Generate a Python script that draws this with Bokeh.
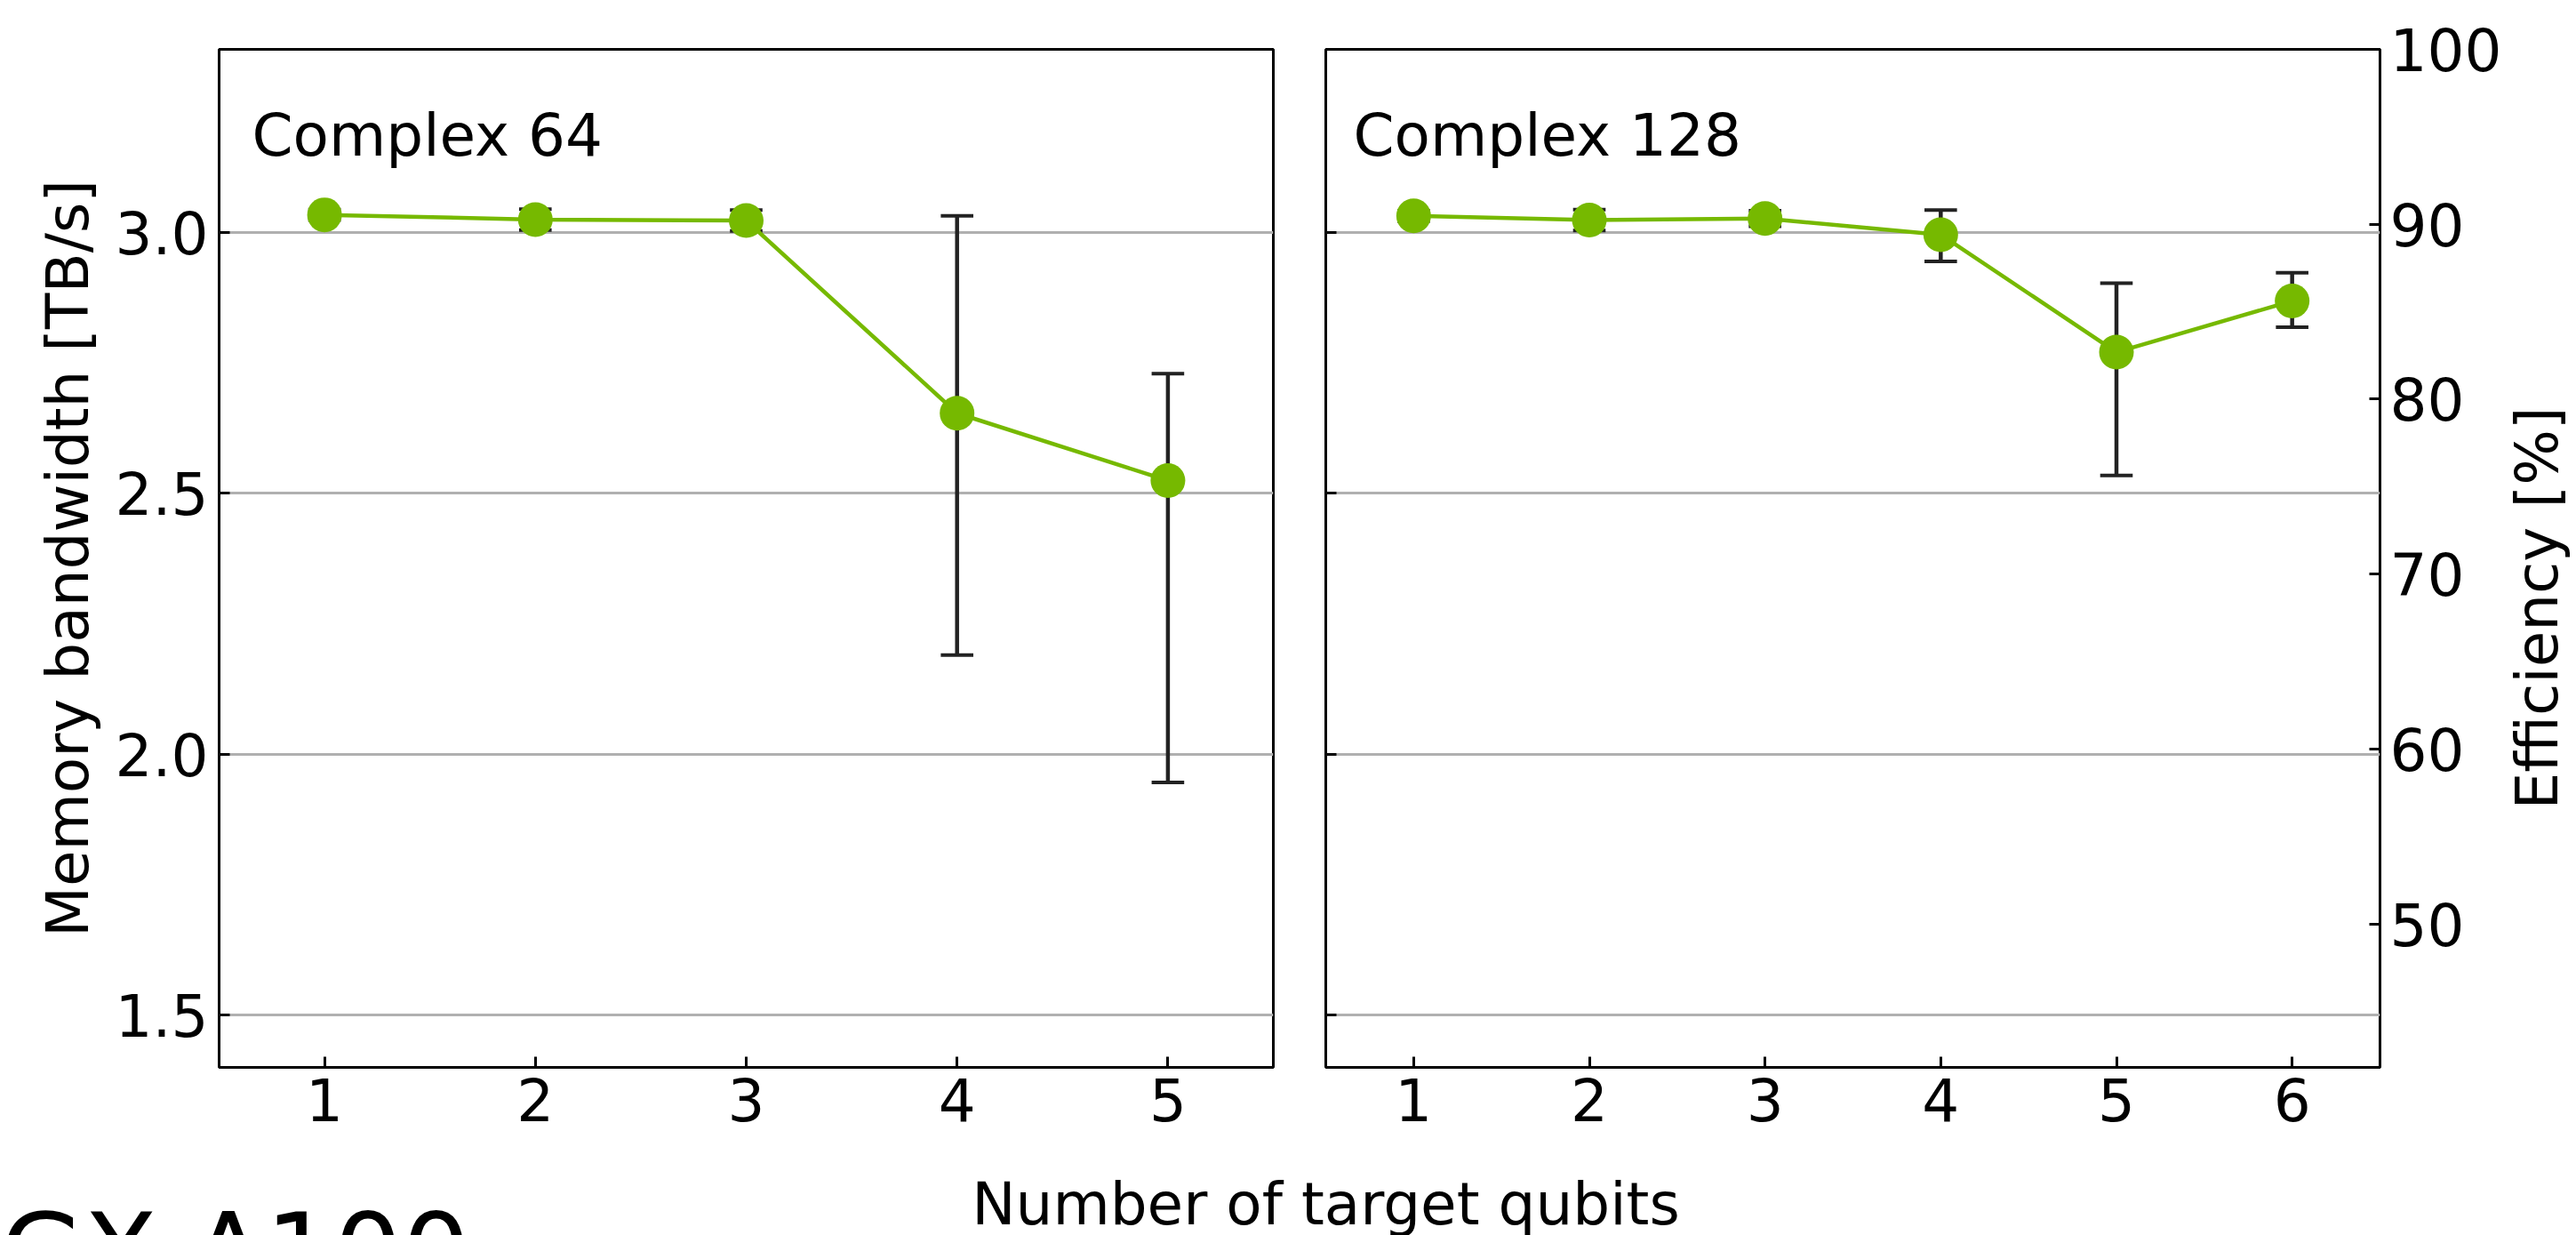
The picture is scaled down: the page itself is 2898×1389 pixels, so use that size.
import math
from bokeh.plotting import figure
from bokeh.models import Range1d, LinearAxis, FixedTicker, Label
from bokeh.layouts import row, column
from bokeh.embed import file_html
from bokeh.resources import INLINE

# ---------------- data ----------------
qubits_c64 = [1, 2, 3, 4, 5]
bw_c64 = [3.033, 3.024, 3.022, 2.653, 2.524]
bw_c64_lo = [3.023, 3.004, 3.002, 2.190, 1.946]
bw_c64_hi = [3.043, 3.044, 3.042, 3.031, 2.729]

qubits_c128 = [1, 2, 3, 4, 5, 6]
bw_c128 = [3.031, 3.023, 3.026, 2.995, 2.770, 2.868]
bw_c128_lo = [3.021, 3.003, 3.011, 2.944, 2.534, 2.818]
bw_c128_hi = [3.041, 3.043, 3.041, 3.042, 2.902, 2.922]

bw_ticks = [1.5, 2.0, 2.5, 3.0]
bw_tick_labels = ["1.5", "2.0", "2.5", "3.0"]
eff_ticks = [50, 60, 70, 80, 90, 100]
eff_tick_labels = ["50", "60", "70", "80", "90", "100"]
peak_bw = 3.35  # TB/s, 100 % efficiency

panel_titles = ["Complex 64", "Complex 128"]
x_label = "Number of target qubits"
y_label = "Memory bandwidth [TB/s]"
y2_label = "Efficiency [%]"
corner_text = "GX A100"

# ---------------- style ----------------
FONT = "DejaVu Sans"
FS = "66px"
GREEN = "#76b900"
ERR = "#222222"
Y_MIN, Y_MAX = 1.40, 3.35
FRAME_W, FRAME_H = 1186, 1145
TOP_B, BOT_B = 55, 90
ROW_H = TOP_B + FRAME_H + BOT_B
TOTAL_W, TOTAL_H = 2898, 1389
CAP_PX = 18.3
BASE_FIX = 21  # bokeh places 'alphabetic' labels a little low


def style_axis(ax):
    ax.axis_line_color = None
    ax.major_tick_in = 12
    ax.major_tick_out = 0
    ax.major_tick_line_width = 3
    ax.major_tick_line_color = "black"
    ax.minor_tick_line_color = None
    ax.major_label_text_font = FONT
    ax.major_label_text_font_size = FS
    ax.major_label_text_color = "black"
    ax.axis_label_text_font = FONT
    ax.axis_label_text_font_size = FS
    ax.axis_label_text_font_style = "normal"
    ax.axis_label_text_color = "black"


def make_panel(xs, ys, lo, hi, title, title_dx, mb_left, mb_right, first):
    nx = len(xs)
    p = figure(frame_width=FRAME_W, frame_height=FRAME_H,
               min_border_left=mb_left, min_border_right=mb_right,
               min_border_top=TOP_B, min_border_bottom=BOT_B,
               x_range=Range1d(0.5, nx + 0.5), y_range=Range1d(Y_MIN, Y_MAX),
               output_backend="svg", toolbar_location=None,
               background_fill_color="white", border_fill_color="white")
    p.outline_line_color = "black"
    p.outline_line_width = 3
    p.xgrid.visible = False
    p.ygrid.ticker = FixedTicker(ticks=bw_ticks)
    p.ygrid.grid_line_color = "#b0b0b0"
    p.ygrid.grid_line_width = 3

    xa = p.xaxis[0]
    style_axis(xa)
    xa.ticker = FixedTicker(ticks=xs)
    xa.major_label_standoff = 11

    ya = p.yaxis[0]
    style_axis(ya)
    ya.ticker = FixedTicker(ticks=bw_ticks)
    if first:
        ya.major_label_overrides = {t: l for t, l in zip(bw_ticks, bw_tick_labels)}
        ya.major_label_standoff = 12
        ya.axis_label = y_label
        ya.axis_label_standoff = 12
    else:
        ya.major_label_overrides = {t: "" for t in bw_ticks}
        ya.major_label_standoff = 0

    # error bars
    cap = CAP_PX * nx / FRAME_W
    p.segment(x0=xs, x1=xs, y0=lo, y1=hi, line_color=ERR, line_width=4.5)
    p.segment(x0=[x - cap for x in xs], x1=[x + cap for x in xs], y0=hi, y1=hi,
              line_color=ERR, line_width=4)
    p.segment(x0=[x - cap for x in xs], x1=[x + cap for x in xs], y0=lo, y1=lo,
              line_color=ERR, line_width=4)
    # line + markers
    p.line(xs, ys, line_color=GREEN, line_width=4.5)
    p.scatter(xs, ys, size=39, fill_color=GREEN, line_color=None)

    title_base = 173 - BASE_FIX
    p.add_layout(Label(x=0.5 + title_dx * nx / FRAME_W,
                       y=Y_MAX - (title_base - TOP_B) * (Y_MAX - Y_MIN) / FRAME_H,
                       text=title, text_font=FONT, text_font_size=FS, text_color="black",
                       text_baseline="alphabetic", text_align="left"))
    return p


P1_W = 246 + FRAME_W + 29
P2_RB = 147
p1 = make_panel(qubits_c64, bw_c64, bw_c64_lo, bw_c64_hi, panel_titles[0], 37, 246, 29, True)
p2 = make_panel(qubits_c128, bw_c128, bw_c128_lo, bw_c128_hi, panel_titles[1], 31, 30, P2_RB, False)
P2_W = 30 + FRAME_W + P2_RB

# efficiency axis on the right of second panel
p2.extra_y_ranges = {"eff": Range1d(Y_MIN / peak_bw * 100, Y_MAX / peak_bw * 100)}
ax2 = LinearAxis(y_range_name="eff", ticker=FixedTicker(ticks=eff_ticks))
style_axis(ax2)
ax2.major_label_overrides = {t: l for t, l in zip(eff_ticks, eff_tick_labels)}
ax2.major_label_standoff = 11
p2.add_layout(ax2, "right")

# narrow strip holding the right-hand axis title (reads bottom to top)
LAB_W = TOTAL_W - P1_W - P2_W
p_lab = figure(frame_width=LAB_W, frame_height=ROW_H, min_border=0,
               x_range=Range1d(0, LAB_W), y_range=Range1d(0, ROW_H),
               x_axis_location=None, y_axis_location=None,
               output_backend="svg", toolbar_location=None,
               background_fill_color="white", border_fill_color="white")
p_lab.outline_line_color = None
p_lab.grid.visible = False
p_lab.add_layout(Label(x=2875 - BASE_FIX - P1_W - P2_W, y=ROW_H - 855, text=y2_label,
                       angle=math.pi / 2, text_font=FONT, text_font_size=FS,
                       text_color="black", text_align="left", text_baseline="alphabetic"))

# bottom strip with shared x label and clipped corner title
BOT_H = TOTAL_H - ROW_H
p3 = figure(frame_width=TOTAL_W, frame_height=BOT_H, min_border=0,
            x_range=Range1d(0, TOTAL_W), y_range=Range1d(0, BOT_H),
            x_axis_location=None, y_axis_location=None,
            output_backend="svg", toolbar_location=None,
            background_fill_color="white", border_fill_color="white")
p3.outline_line_color = None
p3.grid.visible = False
p3.add_layout(Label(x=1491, y=TOTAL_H - (1375 - BASE_FIX), text=x_label, text_font=FONT,
                    text_font_size=FS, text_color="black", text_align="center",
                    text_baseline="alphabetic"))
p3.add_layout(Label(x=0, y=TOTAL_H - 1338, text=corner_text, text_font=FONT,
                    text_font_size="121px", text_color="black",
                    text_align="left", text_baseline="top"))

layout = column(row(p1, p2, p_lab), p3)
open("out.html", "w").write(file_html(layout, INLINE))
